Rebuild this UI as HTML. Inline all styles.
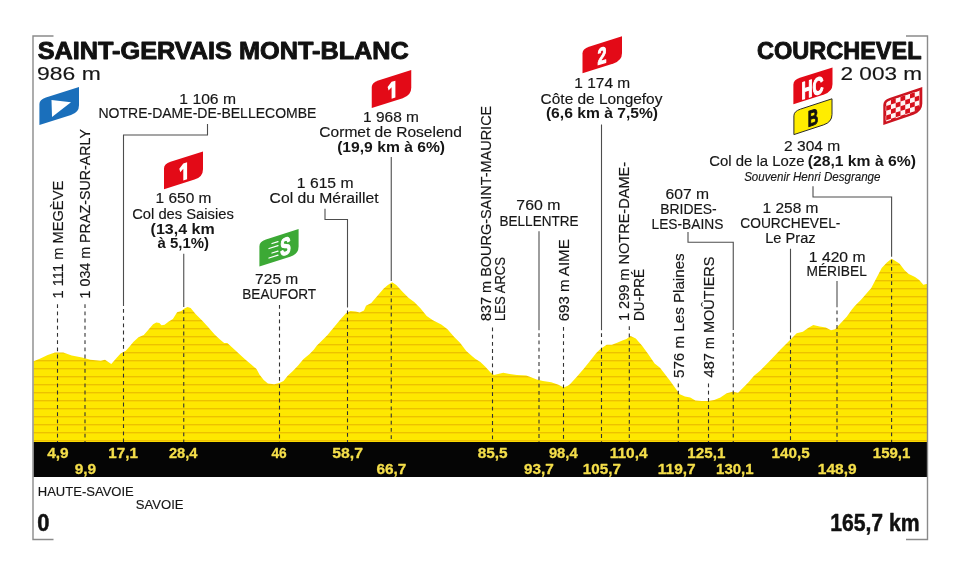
<!DOCTYPE html>
<html><head><meta charset="utf-8"><style>
html,body{margin:0;padding:0;background:#fff;overflow:hidden}
svg{display:block;will-change:transform}
text{font-family:"Liberation Sans",sans-serif}
</style></head><body>
<svg width="960" height="576" viewBox="0 0 960 576">
<defs>
<pattern id="stripes" patternUnits="userSpaceOnUse" x="0" y="0" width="8" height="8">
<rect width="8" height="8" fill="#fee800"/><rect y="0" width="8" height="1" fill="#ecc200"/><rect y="1" width="8" height="1" fill="#f9d800"/>
</pattern>
</defs>
<rect width="960" height="576" fill="#fff"/>
<path d="M33.5,361.25 L40.4,358.6 L47.7,355 L55,352.4 L63.3,352.4 L71.7,355.5 L82.1,357.6 L90.4,359.7 L100.8,360.7 L105,359.7 L111.25,363.9 L116.5,358.1 L120.6,353.4 L125.8,350.8 L129.2,347.1 L133.3,341.9 L138.5,337.2 L143.75,335.1 L149,328.9 L153.1,324.2 L156.25,322.6 L159.4,323.1 L161.5,325.2 L164.6,324.7 L168.75,321.6 L172.9,319 L177.1,312.2 L181.25,311.1 L184.4,308.5 L187.5,307 L190.6,308 L195.8,314.3 L202.1,320.5 L208.3,327.3 L214.6,334.6 L220,339.4 L224.2,343 L227.3,343 L232.5,347.7 L238.75,353.4 L245,359.2 L251.25,364.4 L256.5,369.1 L259.6,374.8 L263.75,380 L267.9,383.6 L274.2,384.2 L279.4,383.1 L283.5,381 L287.7,375.8 L292.9,371.1 L298.1,365.4 L303.3,359.2 L309.6,354 L313.75,349.8 L316.9,345.6 L320,342.5 L327.5,335 L335.8,325 L341,318.75 L346.25,313 L350.4,310.9 L355.6,311.5 L359.8,312.5 L364,310.4 L366,305.7 L371.25,303.1 L377.5,295.8 L383.75,288.5 L387.9,284.9 L392.1,282.3 L396.25,284.9 L402.5,291.7 L408.75,297.9 L414.2,302.1 L420.4,308.3 L426.7,316.1 L432.9,320.3 L441.25,324.5 L447.5,329.2 L453.75,336.5 L460,342.7 L466.25,351 L472.5,356.5 L475.2,358.75 L480.4,361.9 L485.6,367.1 L490.8,372.8 L494,374.9 L498.1,373.9 L503.3,372.8 L509.6,373.9 L516.9,374.9 L526.25,375.4 L530.4,377 L536.7,379.6 L542.9,381.1 L551.25,382.2 L558.5,384.8 L563.75,387.4 L567.9,385.8 L570.2,384 L577.5,376 L583.75,368.75 L590,361 L596.25,353.1 L600.4,349 L606.7,344.8 L611.9,344.8 L617.1,342.7 L622.3,340.6 L626.5,339.1 L630.6,335.9 L635.8,338.5 L642.1,345.8 L648.3,354.2 L654.6,363.5 L660,367.7 L665.2,374.5 L670.4,381.25 L675.6,388.5 L679.8,394.3 L685,396.4 L690.2,397.4 L695.4,400.5 L701.7,401 L707.9,401 L714.2,400 L720.4,397.4 L726.7,393.2 L732.9,391.7 L738.1,392.7 L743.3,387.5 L748.5,382.3 L753.75,376 L760,370.8 L770.6,360 L781,349 L788.3,341.7 L796.7,333.3 L802.9,331.8 L808.1,328.1 L813.3,325 L819.6,326.6 L825.8,327.6 L831,330.2 L835.2,329.2 L840.4,323.4 L846.7,316.7 L851.9,309.4 L855,305.7 L860.8,300 L871.25,287.9 L881.7,268.1 L886.9,262.4 L891.6,258.75 L894.2,260.3 L899.4,263.4 L904.6,270.2 L908.75,273.9 L915,277 L919.2,280.1 L923.3,284.8 L927.5,283.75 L927.5,442 L33.5,442 Z" fill="url(#stripes)"/>
<rect x="33.5" y="442" width="894" height="35" fill="#050505"/>
<path d="M53.5,36 H33 V539.5 H53.5" fill="none" stroke="#8a8a8a" stroke-width="1.4"/>
<path d="M906,36 H927.5 V539.5 H906" fill="none" stroke="#8a8a8a" stroke-width="1.4"/>
<path d="M207.5,124 V135 H123.5 V306" fill="none" stroke="#4d4d4d" stroke-width="1.1"/><line x1="123.5" y1="309" x2="123.5" y2="442" stroke="#333" stroke-width="1.1" stroke-dasharray="3.8 3.4"/><path d="M183.75,253.75 V307" fill="none" stroke="#4d4d4d" stroke-width="1.1"/><line x1="183.75" y1="310" x2="183.75" y2="442" stroke="#333" stroke-width="1.1" stroke-dasharray="3.8 3.4"/><path d="M325,208.75 V219.5 H347.5 V307.5" fill="none" stroke="#4d4d4d" stroke-width="1.1"/><line x1="347.5" y1="310.5" x2="347.5" y2="442" stroke="#333" stroke-width="1.1" stroke-dasharray="3.8 3.4"/><path d="M391.25,157 V281" fill="none" stroke="#4d4d4d" stroke-width="1.1"/><line x1="391.25" y1="284" x2="391.25" y2="442" stroke="#333" stroke-width="1.1" stroke-dasharray="3.8 3.4"/><path d="M539,231.25 V330.2" fill="none" stroke="#4d4d4d" stroke-width="1.1"/><line x1="539" y1="333.3" x2="539" y2="442" stroke="#333" stroke-width="1.1" stroke-dasharray="3.8 3.4"/><path d="M601.5,124.5 V330.2" fill="none" stroke="#4d4d4d" stroke-width="1.1"/><line x1="601.5" y1="333.3" x2="601.5" y2="442" stroke="#333" stroke-width="1.1" stroke-dasharray="3.8 3.4"/><path d="M688,232 V242.2 H733.25 V330" fill="none" stroke="#4d4d4d" stroke-width="1.1"/><line x1="733.25" y1="333" x2="733.25" y2="442" stroke="#333" stroke-width="1.1" stroke-dasharray="3.8 3.4"/><path d="M790.5,248.75 V332.5" fill="none" stroke="#4d4d4d" stroke-width="1.1"/><line x1="790.5" y1="335.5" x2="790.5" y2="442" stroke="#333" stroke-width="1.1" stroke-dasharray="3.8 3.4"/><path d="M837,281 V307.3" fill="none" stroke="#4d4d4d" stroke-width="1.1"/><line x1="837" y1="310.5" x2="837" y2="442" stroke="#333" stroke-width="1.1" stroke-dasharray="3.8 3.4"/><path d="M813,186.25 V197 H891.6 V256.7" fill="none" stroke="#4d4d4d" stroke-width="1.1"/><line x1="891.6" y1="259.7" x2="891.6" y2="442" stroke="#333" stroke-width="1.1" stroke-dasharray="3.8 3.4"/><line x1="57.5" y1="304.2" x2="57.5" y2="442" stroke="#333" stroke-width="1.1" stroke-dasharray="3.8 3.4"/><line x1="85" y1="304.2" x2="85" y2="442" stroke="#333" stroke-width="1.1" stroke-dasharray="3.8 3.4"/><line x1="279.5" y1="305" x2="279.5" y2="442" stroke="#333" stroke-width="1.1" stroke-dasharray="3.8 3.4"/><line x1="492.5" y1="327.5" x2="492.5" y2="442" stroke="#333" stroke-width="1.1" stroke-dasharray="3.8 3.4"/><line x1="563.5" y1="326.9" x2="563.5" y2="442" stroke="#333" stroke-width="1.1" stroke-dasharray="3.8 3.4"/><line x1="629.3" y1="326.3" x2="629.3" y2="442" stroke="#333" stroke-width="1.1" stroke-dasharray="3.8 3.4"/><line x1="678.3" y1="383.5" x2="678.3" y2="442" stroke="#333" stroke-width="1.1" stroke-dasharray="3.8 3.4"/><line x1="708.5" y1="383.5" x2="708.5" y2="442" stroke="#333" stroke-width="1.1" stroke-dasharray="3.8 3.4"/>

<path d="M39.4,125 L39.4,104.05 Q39.4,99.50 45.90,97.45 L79,87 L79,105.30 Q79,112.50 71.00,115.03 Z" fill="#1a6fbb"/>
<path d="M51.5,100 L71,102.3 L52,117 Z" fill="#fff"/>
<path d="M164,189.3 L164,168.45 Q164,163.90 170.50,161.82 L203,151.4 L203,169.15 Q203,176.80 194.50,179.52 Z" fill="#e30a17"/>
<path d="M582.5,73.25 L582.5,53.30 Q582.5,48.75 589.00,46.69 L622,36.25 L622,53.10 Q622,60.75 613.50,63.44 Z" fill="#e30a17"/>
<path d="M371.75,108 L371.75,87.05 Q371.75,82.50 378.25,80.44 L411.25,70 L411.25,87.85 Q411.25,95.50 402.75,98.19 Z" fill="#e30a17"/>
<path d="M793.4,104.2 L793.4,84.45 Q793.4,79.90 799.90,77.82 L832.5,67.4 L832.5,84.05 Q832.5,91.70 824.00,94.42 Z" fill="#e30a17"/>
<path d="M793.9,134.6 L793.9,115.85 Q793.9,111.30 800.40,109.17 L832,98.8 L832,114.45 Q832,122.10 823.50,124.89 Z" fill="#ffed00" stroke="#2a2a2a" stroke-width="1"/>
<path d="M259.4,266.6 L259.4,246.15 Q259.4,241.60 265.90,239.53 L298.6,229.1 L298.6,246.45 Q298.6,254.10 290.10,256.81 Z" fill="#3ca935"/>
<g transform="translate(183.2,180.5) skewY(-17.55)"><path d="M-3.9,-13.0 L0.1,-16.9 H3.9 V0 H0.1 V-11.6 L-2.9,-9.2 Z" fill="#fff"/></g><g transform="translate(391.5,98.8) skewY(-17.55)"><path d="M-3.9,-13.0 L0.1,-16.9 H3.9 V0 H0.1 V-11.6 L-2.9,-9.2 Z" fill="#fff"/></g><g transform="translate(602.0,63.6) skewY(-17.55)"><text x="0" y="0" text-anchor="middle" font-size="23" font-weight="bold" fill="#fff" stroke="#fff" stroke-width="1.1" stroke-linejoin="round" textLength="9" lengthAdjust="spacingAndGlyphs">2</text></g><g transform="translate(812.6,96.0) skewY(-17.55)"><text x="0" y="0" text-anchor="middle" font-size="24" font-weight="bold" fill="#fff" stroke="#fff" stroke-width="1.3" stroke-linejoin="round" textLength="22" lengthAdjust="spacingAndGlyphs">HC</text></g><g transform="translate(813,125.4) skewY(-17.55)"><text x="0" y="0" text-anchor="middle" font-size="22.5" font-weight="bold" fill="#111" stroke="#111" stroke-width="1.0" stroke-linejoin="round" textLength="10.5" lengthAdjust="spacingAndGlyphs">B</text></g><g transform="translate(285.6,254.6) skewY(-17.55)"><text x="0" y="0" text-anchor="middle" font-size="24" font-weight="bold" fill="#fff" stroke="#fff" stroke-width="1.3" stroke-linejoin="round" textLength="10.5" lengthAdjust="spacingAndGlyphs">S</text></g><g stroke="#fff" stroke-width="1.3" stroke-linecap="round"><line x1="272" y1="243.5" x2="278" y2="241.60"/><line x1="269" y1="248.5" x2="278" y2="245.65"/><line x1="272" y1="253.0" x2="278" y2="251.10"/><line x1="269" y1="258.0" x2="278" y2="255.15"/></g><clipPath id="ckc"><path d="M884.5,123.3 L884.5,104.95 Q884.5,101.10 890.00,99.22 L921.1,88.6 L921.1,103.60 Q921.1,110.80 913.10,113.53 Z"/></clipPath>
<g clip-path="url(#ckc)"><rect x="880" y="80" width="50" height="50" fill="#fff4f4"/>
<g transform="translate(886.2,101.3) skewY(-17.55)"><rect x="0.00" y="-14.28" width="4.76" height="4.76" fill="#d7101c"/><rect x="9.52" y="-14.28" width="4.76" height="4.76" fill="#d7101c"/><rect x="19.04" y="-14.28" width="4.76" height="4.76" fill="#d7101c"/><rect x="28.56" y="-14.28" width="4.76" height="4.76" fill="#d7101c"/><rect x="38.08" y="-14.28" width="4.76" height="4.76" fill="#d7101c"/><rect x="-4.76" y="-9.52" width="4.76" height="4.76" fill="#d7101c"/><rect x="4.76" y="-9.52" width="4.76" height="4.76" fill="#d7101c"/><rect x="14.28" y="-9.52" width="4.76" height="4.76" fill="#d7101c"/><rect x="23.80" y="-9.52" width="4.76" height="4.76" fill="#d7101c"/><rect x="33.32" y="-9.52" width="4.76" height="4.76" fill="#d7101c"/><rect x="0.00" y="-4.76" width="4.76" height="4.76" fill="#d7101c"/><rect x="9.52" y="-4.76" width="4.76" height="4.76" fill="#d7101c"/><rect x="19.04" y="-4.76" width="4.76" height="4.76" fill="#d7101c"/><rect x="28.56" y="-4.76" width="4.76" height="4.76" fill="#d7101c"/><rect x="38.08" y="-4.76" width="4.76" height="4.76" fill="#d7101c"/><rect x="-4.76" y="0.00" width="4.76" height="4.76" fill="#d7101c"/><rect x="4.76" y="0.00" width="4.76" height="4.76" fill="#d7101c"/><rect x="14.28" y="0.00" width="4.76" height="4.76" fill="#d7101c"/><rect x="23.80" y="0.00" width="4.76" height="4.76" fill="#d7101c"/><rect x="33.32" y="0.00" width="4.76" height="4.76" fill="#d7101c"/><rect x="0.00" y="4.76" width="4.76" height="4.76" fill="#d7101c"/><rect x="9.52" y="4.76" width="4.76" height="4.76" fill="#d7101c"/><rect x="19.04" y="4.76" width="4.76" height="4.76" fill="#d7101c"/><rect x="28.56" y="4.76" width="4.76" height="4.76" fill="#d7101c"/><rect x="38.08" y="4.76" width="4.76" height="4.76" fill="#d7101c"/><rect x="-4.76" y="9.52" width="4.76" height="4.76" fill="#d7101c"/><rect x="4.76" y="9.52" width="4.76" height="4.76" fill="#d7101c"/><rect x="14.28" y="9.52" width="4.76" height="4.76" fill="#d7101c"/><rect x="23.80" y="9.52" width="4.76" height="4.76" fill="#d7101c"/><rect x="33.32" y="9.52" width="4.76" height="4.76" fill="#d7101c"/><rect x="0.00" y="14.28" width="4.76" height="4.76" fill="#d7101c"/><rect x="9.52" y="14.28" width="4.76" height="4.76" fill="#d7101c"/><rect x="19.04" y="14.28" width="4.76" height="4.76" fill="#d7101c"/><rect x="28.56" y="14.28" width="4.76" height="4.76" fill="#d7101c"/><rect x="38.08" y="14.28" width="4.76" height="4.76" fill="#d7101c"/><rect x="-4.76" y="19.04" width="4.76" height="4.76" fill="#d7101c"/><rect x="4.76" y="19.04" width="4.76" height="4.76" fill="#d7101c"/><rect x="14.28" y="19.04" width="4.76" height="4.76" fill="#d7101c"/><rect x="23.80" y="19.04" width="4.76" height="4.76" fill="#d7101c"/><rect x="33.32" y="19.04" width="4.76" height="4.76" fill="#d7101c"/><rect x="0.00" y="23.80" width="4.76" height="4.76" fill="#d7101c"/><rect x="9.52" y="23.80" width="4.76" height="4.76" fill="#d7101c"/><rect x="19.04" y="23.80" width="4.76" height="4.76" fill="#d7101c"/><rect x="28.56" y="23.80" width="4.76" height="4.76" fill="#d7101c"/><rect x="38.08" y="23.80" width="4.76" height="4.76" fill="#d7101c"/></g></g><path d="M884.5,123.3 L884.5,104.95 Q884.5,101.10 890.00,99.22 L921.1,88.6 L921.1,103.60 Q921.1,110.80 913.10,113.53 Z" fill="none" stroke="#cc1420" stroke-width="2.4"/>
<text x="37.67" y="59.40" font-size="23.4" stroke="#111" stroke-width="0.9" stroke-linejoin="round" font-weight="bold" fill="#111" textLength="371.19" lengthAdjust="spacingAndGlyphs">SAINT-GERVAIS MONT-BLANC</text>
<text x="37.09" y="79.60" font-size="19" stroke="#161616" stroke-width="0.15" fill="#161616" textLength="63.69" lengthAdjust="spacingAndGlyphs">986 m</text>
<text x="756.94" y="59.20" font-size="23.4" stroke="#111" stroke-width="0.9" stroke-linejoin="round" font-weight="bold" fill="#111" textLength="164.61" lengthAdjust="spacingAndGlyphs">COURCHEVEL</text>
<text x="840.56" y="80.20" font-size="19" stroke="#161616" stroke-width="0.15" fill="#161616" textLength="81.47" lengthAdjust="spacingAndGlyphs">2 003 m</text>
<text x="179.36" y="103.70" font-size="13.8" stroke="#161616" stroke-width="0.15" fill="#161616" textLength="56.61" lengthAdjust="spacingAndGlyphs">1 106 m</text>
<text x="98.48" y="117.90" font-size="13.8" stroke="#161616" stroke-width="0.15" fill="#161616" textLength="217.93" lengthAdjust="spacingAndGlyphs">NOTRE-DAME-DE-BELLECOMBE</text>
<text x="363.13" y="122.20" font-size="13.8" stroke="#161616" stroke-width="0.15" fill="#161616" textLength="55.83" lengthAdjust="spacingAndGlyphs">1 968 m</text>
<text x="319.37" y="137.40" font-size="13.8" stroke="#161616" stroke-width="0.15" fill="#161616" textLength="142.49" lengthAdjust="spacingAndGlyphs">Cormet de Roselend</text>
<text x="337.15" y="151.80" font-size="14.3" font-weight="bold" fill="#161616" textLength="107.94" lengthAdjust="spacingAndGlyphs">(19,9 km à 6%)</text>
<text x="574.38" y="88.40" font-size="13.8" stroke="#161616" stroke-width="0.15" fill="#161616" textLength="55.83" lengthAdjust="spacingAndGlyphs">1 174 m</text>
<text x="540.63" y="103.60" font-size="13.8" stroke="#161616" stroke-width="0.15" fill="#161616" textLength="121.80" lengthAdjust="spacingAndGlyphs">Côte de Longefoy</text>
<text x="545.91" y="118.10" font-size="14.3" font-weight="bold" fill="#161616" textLength="112.16" lengthAdjust="spacingAndGlyphs">(6,6 km à 7,5%)</text>
<text x="784.07" y="150.70" font-size="13.8" stroke="#161616" stroke-width="0.15" fill="#161616" textLength="56.20" lengthAdjust="spacingAndGlyphs">2 304 m</text>
<text x="709.22" y="166.20" font-size="13.8" stroke="#161616" stroke-width="0.15" fill="#161616" textLength="95.32" lengthAdjust="spacingAndGlyphs">Col de la Loze</text>
<text x="807.70" y="166.40" font-size="14.3" font-weight="bold" fill="#161616" textLength="108.30" lengthAdjust="spacingAndGlyphs">(28,1 km à 6%)</text>
<text x="744.15" y="180.50" font-size="12.2" font-style="italic" stroke="#161616" stroke-width="0.15" fill="#161616" textLength="136.34" lengthAdjust="spacingAndGlyphs">Souvenir Henri Desgrange</text>
<text x="155.63" y="203.40" font-size="13.8" stroke="#161616" stroke-width="0.15" fill="#161616" textLength="55.83" lengthAdjust="spacingAndGlyphs">1 650 m</text>
<text x="132.18" y="218.60" font-size="13.8" stroke="#161616" stroke-width="0.15" fill="#161616" textLength="101.67" lengthAdjust="spacingAndGlyphs">Col des Saisies</text>
<text x="150.63" y="233.60" font-size="14.3" font-weight="bold" fill="#161616" textLength="64.13" lengthAdjust="spacingAndGlyphs">(13,4 km</text>
<text x="157.50" y="248.10" font-size="14.3" font-weight="bold" fill="#161616" textLength="51.54" lengthAdjust="spacingAndGlyphs">à 5,1%)</text>
<text x="296.86" y="188.40" font-size="13.8" stroke="#161616" stroke-width="0.15" fill="#161616" textLength="56.61" lengthAdjust="spacingAndGlyphs">1 615 m</text>
<text x="269.61" y="202.90" font-size="13.8" stroke="#161616" stroke-width="0.15" fill="#161616" textLength="108.98" lengthAdjust="spacingAndGlyphs">Col du Méraillet</text>
<text x="255.12" y="284.00" font-size="13.8" stroke="#161616" stroke-width="0.15" fill="#161616" textLength="43.18" lengthAdjust="spacingAndGlyphs">725 m</text>
<text x="242.31" y="298.70" font-size="13.8" stroke="#161616" stroke-width="0.15" fill="#161616" textLength="73.81" lengthAdjust="spacingAndGlyphs">BEAUFORT</text>
<text x="516.35" y="210.40" font-size="13.8" stroke="#161616" stroke-width="0.15" fill="#161616" textLength="44.06" lengthAdjust="spacingAndGlyphs">760 m</text>
<text x="499.52" y="225.90" font-size="13.8" stroke="#161616" stroke-width="0.15" fill="#161616" textLength="78.99" lengthAdjust="spacingAndGlyphs">BELLENTRE</text>
<text x="665.61" y="198.70" font-size="13.8" stroke="#161616" stroke-width="0.15" fill="#161616" textLength="43.54" lengthAdjust="spacingAndGlyphs">607 m</text>
<text x="660.24" y="213.60" font-size="13.8" stroke="#161616" stroke-width="0.15" fill="#161616" textLength="56.49" lengthAdjust="spacingAndGlyphs">BRIDES-</text>
<text x="651.50" y="228.60" font-size="13.8" stroke="#161616" stroke-width="0.15" fill="#161616" textLength="71.82" lengthAdjust="spacingAndGlyphs">LES-BAINS</text>
<text x="762.63" y="212.90" font-size="13.8" stroke="#161616" stroke-width="0.15" fill="#161616" textLength="55.83" lengthAdjust="spacingAndGlyphs">1 258 m</text>
<text x="740.25" y="228.40" font-size="13.8" stroke="#161616" stroke-width="0.15" fill="#161616" textLength="100.18" lengthAdjust="spacingAndGlyphs">COURCHEVEL-</text>
<text x="765.19" y="242.90" font-size="13.8" stroke="#161616" stroke-width="0.15" fill="#161616" textLength="50.41" lengthAdjust="spacingAndGlyphs">Le Praz</text>
<text x="808.86" y="261.70" font-size="13.8" stroke="#161616" stroke-width="0.15" fill="#161616" textLength="56.61" lengthAdjust="spacingAndGlyphs">1 420 m</text>
<text x="806.50" y="276.10" font-size="13.8" stroke="#161616" stroke-width="0.15" fill="#161616" textLength="60.32" lengthAdjust="spacingAndGlyphs">MÉRIBEL</text>
<text x="37.77" y="495.50" font-size="13.3" stroke="#161616" stroke-width="0.15" fill="#161616" textLength="96.01" lengthAdjust="spacingAndGlyphs">HAUTE-SAVOIE</text>
<text x="135.77" y="509.30" font-size="13.3" stroke="#161616" stroke-width="0.15" fill="#161616" textLength="47.76" lengthAdjust="spacingAndGlyphs">SAVOIE</text>
<text x="37.32" y="530.60" font-size="23.5" stroke="#111" stroke-width="0.5" stroke-linejoin="round" font-weight="bold" fill="#111" textLength="12.19" lengthAdjust="spacingAndGlyphs">0</text>
<text x="830.15" y="530.80" font-size="23.5" stroke="#111" stroke-width="0.5" stroke-linejoin="round" font-weight="bold" fill="#111" textLength="89.48" lengthAdjust="spacingAndGlyphs">165,7 km</text>
<text x="47.15" y="457.60" font-size="14.2" stroke="#f4de4a" stroke-width="0.3" stroke-linejoin="round" font-weight="bold" fill="#f4de4a" textLength="21.50" lengthAdjust="spacingAndGlyphs">4,9</text>
<text x="108.33" y="457.60" font-size="14.2" stroke="#f4de4a" stroke-width="0.3" stroke-linejoin="round" font-weight="bold" fill="#f4de4a" textLength="29.70" lengthAdjust="spacingAndGlyphs">17,1</text>
<text x="168.90" y="457.60" font-size="14.2" stroke="#f4de4a" stroke-width="0.3" stroke-linejoin="round" font-weight="bold" fill="#f4de4a" textLength="28.56" lengthAdjust="spacingAndGlyphs">28,4</text>
<text x="271.40" y="457.60" font-size="14.2" stroke="#f4de4a" stroke-width="0.3" stroke-linejoin="round" font-weight="bold" fill="#f4de4a" textLength="15.24" lengthAdjust="spacingAndGlyphs">46</text>
<text x="332.29" y="457.60" font-size="14.2" stroke="#f4de4a" stroke-width="0.3" stroke-linejoin="round" font-weight="bold" fill="#f4de4a" textLength="30.76" lengthAdjust="spacingAndGlyphs">58,7</text>
<text x="477.65" y="457.60" font-size="14.2" stroke="#f4de4a" stroke-width="0.3" stroke-linejoin="round" font-weight="bold" fill="#f4de4a" textLength="29.88" lengthAdjust="spacingAndGlyphs">85,5</text>
<text x="548.90" y="457.60" font-size="14.2" stroke="#f4de4a" stroke-width="0.3" stroke-linejoin="round" font-weight="bold" fill="#f4de4a" textLength="28.81" lengthAdjust="spacingAndGlyphs">98,4</text>
<text x="609.81" y="457.60" font-size="14.2" stroke="#f4de4a" stroke-width="0.3" stroke-linejoin="round" font-weight="bold" fill="#f4de4a" textLength="37.75" lengthAdjust="spacingAndGlyphs">110,4</text>
<text x="687.38" y="457.60" font-size="14.2" stroke="#f4de4a" stroke-width="0.3" stroke-linejoin="round" font-weight="bold" fill="#f4de4a" textLength="38.02" lengthAdjust="spacingAndGlyphs">125,1</text>
<text x="771.58" y="457.60" font-size="14.2" stroke="#f4de4a" stroke-width="0.3" stroke-linejoin="round" font-weight="bold" fill="#f4de4a" textLength="38.07" lengthAdjust="spacingAndGlyphs">140,5</text>
<text x="872.84" y="457.60" font-size="14.2" stroke="#f4de4a" stroke-width="0.3" stroke-linejoin="round" font-weight="bold" fill="#f4de4a" textLength="37.55" lengthAdjust="spacingAndGlyphs">159,1</text>
<text x="74.65" y="473.90" font-size="14.2" stroke="#f4de4a" stroke-width="0.3" stroke-linejoin="round" font-weight="bold" fill="#f4de4a" textLength="21.50" lengthAdjust="spacingAndGlyphs">9,9</text>
<text x="376.40" y="473.90" font-size="14.2" stroke="#f4de4a" stroke-width="0.3" stroke-linejoin="round" font-weight="bold" fill="#f4de4a" textLength="29.88" lengthAdjust="spacingAndGlyphs">66,7</text>
<text x="523.90" y="473.90" font-size="14.2" stroke="#f4de4a" stroke-width="0.3" stroke-linejoin="round" font-weight="bold" fill="#f4de4a" textLength="29.88" lengthAdjust="spacingAndGlyphs">93,7</text>
<text x="582.83" y="473.90" font-size="14.2" stroke="#f4de4a" stroke-width="0.3" stroke-linejoin="round" font-weight="bold" fill="#f4de4a" textLength="38.07" lengthAdjust="spacingAndGlyphs">105,7</text>
<text x="657.81" y="473.90" font-size="14.2" stroke="#f4de4a" stroke-width="0.3" stroke-linejoin="round" font-weight="bold" fill="#f4de4a" textLength="37.84" lengthAdjust="spacingAndGlyphs">119,7</text>
<text x="716.09" y="473.90" font-size="14.2" stroke="#f4de4a" stroke-width="0.3" stroke-linejoin="round" font-weight="bold" fill="#f4de4a" textLength="37.55" lengthAdjust="spacingAndGlyphs">130,1</text>
<text x="817.81" y="473.90" font-size="14.2" stroke="#f4de4a" stroke-width="0.3" stroke-linejoin="round" font-weight="bold" fill="#f4de4a" textLength="38.86" lengthAdjust="spacingAndGlyphs">148,9</text>
<text transform="rotate(-90)" x="-298.46" y="62.70" font-size="13.8" fill="#161616" stroke="#161616" stroke-width="0.15" textLength="117.68" lengthAdjust="spacingAndGlyphs">1 111 m MEGÈVE</text>
<text transform="rotate(-90)" x="-298.43" y="89.70" font-size="13.8" fill="#161616" stroke="#161616" stroke-width="0.15" textLength="169.39" lengthAdjust="spacingAndGlyphs">1 034 m PRAZ-SUR-ARLY</text>
<text transform="rotate(-90)" x="-321.05" y="490.70" font-size="13.8" fill="#161616" stroke="#161616" stroke-width="0.15" textLength="215.27" lengthAdjust="spacingAndGlyphs">837 m BOURG-SAINT-MAURICE</text>
<text transform="rotate(-90)" x="-320.95" y="505.20" font-size="13.8" fill="#161616" stroke="#161616" stroke-width="0.15" textLength="63.91" lengthAdjust="spacingAndGlyphs">LES ARCS</text>
<text transform="rotate(-90)" x="-321.39" y="569.00" font-size="13.8" fill="#161616" stroke="#161616" stroke-width="0.15" textLength="82.06" lengthAdjust="spacingAndGlyphs">693 m AIME</text>
<text transform="rotate(-90)" x="-321.05" y="628.80" font-size="13.8" fill="#161616" stroke="#161616" stroke-width="0.15" textLength="159.09" lengthAdjust="spacingAndGlyphs">1 299 m NOTRE-DAME-</text>
<text transform="rotate(-90)" x="-320.99" y="643.50" font-size="13.8" fill="#161616" stroke="#161616" stroke-width="0.15" textLength="52.13" lengthAdjust="spacingAndGlyphs">DU-PRÉ</text>
<text transform="rotate(-90)" x="-378.00" y="684.20" font-size="13.8" fill="#161616" stroke="#161616" stroke-width="0.15" textLength="124.66" lengthAdjust="spacingAndGlyphs">576 m Les Plaines</text>
<text transform="rotate(-90)" x="-377.40" y="713.90" font-size="13.8" fill="#161616" stroke="#161616" stroke-width="0.15" textLength="120.90" lengthAdjust="spacingAndGlyphs">487 m MOÛTIERS</text>
</svg>
</body></html>
